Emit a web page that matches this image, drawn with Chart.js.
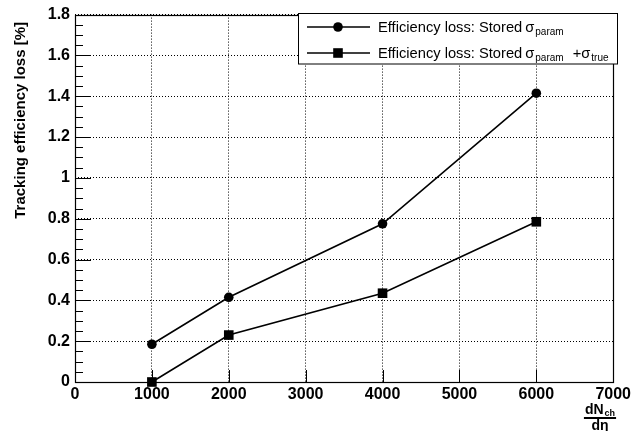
<!DOCTYPE html>
<html>
<head>
<meta charset="utf-8">
<script src="https://cdn.jsdelivr.net/npm/chart.js@4/dist/chart.umd.min.js"></script>
<style>
  html, body { margin: 0; padding: 0; background: #fff; }
  #wrap { width: 634px; height: 431px; position: relative; }
</style>
</head>
<body>
<div id="wrap"><canvas id="c" width="634" height="431"></canvas></div>
<script>
// Charged-particle multiplicity points (dN_ch/deta)
const multiplicity = [1000, 2000, 4000, 6000];
// Tracking efficiency loss [%]
const lossStoredParam = [0.185, 0.415, 0.775, 1.415];
const lossStoredParamTrue = [0.0, 0.23, 0.435, 0.785];
// Legend labels: main text, then sigma subscript pieces
const seriesNames = ['Efficiency loss: Stored', 'Efficiency loss: Stored'];
const seriesSubs = [['param'], ['param', 'true']];
const xTickValues = [0, 1000, 2000, 3000, 4000, 5000, 6000, 7000];
const yTickValues = [0, 0.2, 0.4, 0.6, 0.8, 1, 1.2, 1.4, 1.6, 1.8];
const yTitle = 'Tracking efficiency loss [%]';

const FONT = "'Liberation Sans', Arial, Helvetica, sans-serif";
const AREA = { left: 75, right: 618, top: 12.5, bottom: 382 };

function toPoints(xs, ys) { return xs.map((x, i) => ({ x: x, y: ys[i] })); }

// Frame, inside ticks, legend box, axis titles
const rootStyle = {
  id: 'rootStyle',
  afterDatasetsDraw(chart) {
    const ctx = chart.ctx;
    const a = chart.chartArea;
    const xs = chart.scales.x, ys = chart.scales.y;
    ctx.save();
    ctx.strokeStyle = '#000';
    ctx.lineWidth = 1;
    // inside ticks on the y axis
    ctx.beginPath();
    for (let v = 0; v <= 1.8 + 1e-9; v += 0.05) {
      const py = Math.round(ys.getPixelForValue(v)) + 0.5;
      const major = Math.abs(v / 0.2 - Math.round(v / 0.2)) < 1e-6;
      ctx.moveTo(a.left, py);
      ctx.lineTo(a.left + (major ? 16 : 8), py);
    }
    // inside ticks on the x axis
    xTickValues.forEach(v => {
      const px = Math.round(xs.getPixelForValue(v)) + 0.5;
      ctx.moveTo(px, a.bottom);
      ctx.lineTo(px, a.bottom - 12);
    });
    ctx.stroke();
    // frame
    ctx.lineWidth = 1.2;
    ctx.strokeRect(Math.round(a.left) + 0.5, Math.round(a.top) + 0.5,
                   Math.round(a.right - a.left), Math.round(a.bottom - a.top));
    ctx.restore();
  },
  afterDraw(chart) {
    const ctx = chart.ctx;
    const a = chart.chartArea;
    ctx.save();
    // legend box
    const bx = 298.5, by = 13.5, bw = 319, bh = 50.5;
    ctx.fillStyle = '#fff';
    ctx.fillRect(bx, by, bw, bh);
    ctx.strokeStyle = '#000';
    ctx.lineWidth = 1;
    ctx.strokeRect(bx, by, bw, bh);
    const rows = [27, 53];
    chart.data.datasets.forEach((ds, i) => {
      const ry = rows[i];
      ctx.strokeStyle = '#000';
      ctx.lineWidth = 1.6;
      ctx.beginPath();
      ctx.moveTo(307, ry);
      ctx.lineTo(370, ry);
      ctx.stroke();
      ctx.fillStyle = '#000';
      if (ds.pointStyle === 'circle') {
        ctx.beginPath();
        ctx.arc(338, ry, 4.8, 0, Math.PI * 2);
        ctx.fill();
      } else {
        ctx.fillRect(338 - 4.8, ry - 4.8, 9.6, 9.6);
      }
      // text with sigma subscripts
      ctx.textBaseline = 'alphabetic';
      ctx.textAlign = 'left';
      let x = 378;
      const base = ry + 5;
      ctx.font = '14.7px ' + FONT;
      ctx.fillText(seriesNames[i], x, base);
      x += ctx.measureText(seriesNames[i]).width + 3;
      seriesSubs[i].forEach((sub, k) => {
        ctx.font = '14.7px ' + FONT;
        if (k > 0) {
          x += 9;
          ctx.fillText('+', x, base);
          x += ctx.measureText('+').width;
        }
        ctx.fillText('\u03c3', x, base);
        x += ctx.measureText('\u03c3').width + 1;
        ctx.font = '10px ' + FONT;
        ctx.fillText(sub, x, base + 3);
        x += ctx.measureText(sub).width;
      });
    });
    // y title, aligned to the top end of the axis
    ctx.fillStyle = '#000';
    ctx.save();
    ctx.translate(21, 22);
    ctx.rotate(-Math.PI / 2);
    ctx.font = 'bold 15px ' + FONT;
    ctx.textAlign = 'right';
    ctx.textBaseline = 'middle';
    ctx.fillText(yTitle, 0, 0);
    ctx.restore();
    // x title: dN_ch / d eta, at the right end of the axis
    ctx.font = 'bold 14px ' + FONT;
    ctx.textAlign = 'left';
    ctx.textBaseline = 'alphabetic';
    const cx = 600;
    const wdN = ctx.measureText('dN').width;
    ctx.font = 'bold 9px ' + FONT;
    const wch = ctx.measureText('ch').width;
    const num = wdN + wch + 1;
    ctx.font = 'bold 14px ' + FONT;
    ctx.fillText('dN', cx - num / 2, 414);
    ctx.font = 'bold 9px ' + FONT;
    ctx.fillText('ch', cx - num / 2 + wdN + 1, 416);
    ctx.fillRect(cx - num / 2 - 1, 417, num + 2, 2);
    ctx.font = 'bold 14px ' + FONT;
    ctx.textAlign = 'center';
    ctx.fillText('d\u03b7', cx, 430);
    ctx.restore();
  }
};

new Chart(document.getElementById('c'), {
  type: 'line',
  data: {
    datasets: [
      {
        label: seriesNames[0] + ' \u03c3_' + seriesSubs[0].join(''),
        data: toPoints(multiplicity, lossStoredParam),
        borderColor: '#000',
        backgroundColor: '#000',
        borderWidth: 1.6,
        pointStyle: 'circle',
        pointRadius: 4.8,
        pointHoverRadius: 4.8,
        pointBorderWidth: 0,
        tension: 0
      },
      {
        label: seriesNames[1] + ' \u03c3_param + \u03c3_true',
        data: toPoints(multiplicity, lossStoredParamTrue),
        borderColor: '#000',
        backgroundColor: '#000',
        borderWidth: 1.6,
        pointStyle: 'rect',
        pointRadius: 6.8,
        pointHoverRadius: 6.8,
        pointBorderWidth: 0,
        tension: 0
      }
    ]
  },
  options: {
    responsive: false,
    animation: false,
    events: [],
    clip: false,
    layout: { padding: { left: 0, right: 634 - AREA.right, top: AREA.top, bottom: 0 } },
    plugins: { legend: { display: false }, tooltip: { enabled: false } },
    scales: {
      x: {
        type: 'linear',
        min: 0, max: 7000,
        afterBuildTicks(s) { s.ticks = xTickValues.map(v => ({ value: v })); },
        afterFit(s) { s.height = 431 - AREA.bottom; },
        ticks: {
          color: '#000',
          font: { family: FONT, size: 16, weight: 'bold' },
          padding: 3,
          maxRotation: 0,
          autoSkip: false,
          callback: v => String(v)
        },
        grid: { color: '#000', lineWidth: 1, drawTicks: false },
        border: { display: false, dash: [1, 2] }
      },
      y: {
        type: 'linear',
        min: 0, max: 1.8,
        afterBuildTicks(s) { s.ticks = yTickValues.map(v => ({ value: v })); },
        afterFit(s) { s.width = AREA.left; },
        ticks: {
          color: '#000',
          font: { family: FONT, size: 16, weight: 'bold' },
          padding: 5,
          autoSkip: false,
          callback: v => String(Math.round(v * 10) / 10)
        },
        grid: { color: '#000', lineWidth: 1, drawTicks: false },
        border: { display: false, dash: [1, 2] }
      }
    }
  },
  plugins: [rootStyle]
});
</script>
</body>
</html>
